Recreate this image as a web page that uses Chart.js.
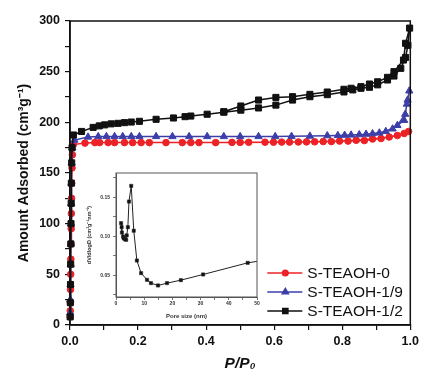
<!DOCTYPE html>
<html>
<head>
<meta charset="utf-8">
<script src="https://cdn.jsdelivr.net/npm/chart.js@4.4.1/dist/chart.umd.min.js"></script>
<style>
  html, body { margin: 0; padding: 0; background: #fff; }
  #wrap { position: relative; width: 423px; height: 374px; overflow: hidden; }
  #main { position: absolute; left: 0; top: 0; }
  #inset { position: absolute; left: 82px; top: 166px; pointer-events: none; }
</style>
</head>
<body>
<div id="wrap">
  <canvas id="main" width="423" height="374"></canvas>
  <canvas id="inset" width="182" height="156"></canvas>
</div>
<script>
// ---- data ----
const seriesNames = ["S-TEAOH-0", "S-TEAOH-1/9", "S-TEAOH-1/2"];

// S-TEAOH-0 : adsorption then desorption
const redP = [0.0005,0.0008,0.001,0.0015,0.002,0.0025,0.003,0.0035,0.004,0.0045,0.005,0.006,0.007,0.0097,
  0.044,0.087,0.131,0.184,0.233,0.282,0.330,0.379,0.428,0.476,0.525,0.573,0.622,0.671,0.719,0.768,0.817,0.865,0.914,0.962,0.995,
  0.982,0.938,0.889,0.841,0.792,0.744,0.695,0.645,0.598,0.500,0.355,0.209,0.160,0.112,0.073];
const redV = [8,14,22,35,50,65,80,95,110,125,140,155,168,178,
  179.5,180,180,180,180,180,180,180,180,180.2,180.3,180.4,180.5,180.6,180.8,181,181.5,182,184,187,191,
  189,185.5,183.5,182.3,181.5,181,180.7,180.5,180.4,180.2,180,180,180,180,180];

// S-TEAOH-1/9
const blueP = [0.0005,0.001,0.0015,0.002,0.0025,0.003,0.0035,0.004,0.005,0.007,0.013,
  0.053,0.083,0.107,0.131,0.155,0.180,0.204,0.253,0.301,0.350,0.403,0.452,0.500,0.554,0.603,0.651,0.705,0.756,0.807,0.850,0.889,0.928,0.962,0.985,0.992,0.997,
  0.990,0.982,0.948,0.909,0.870,0.826,0.787];
const blueV = [12,25,40,60,80,100,120,140,160,175,182.5,
  185.5,186,186,186,186,186,186,186,186,186,186,186,186,186,186,186.2,186.4,186.8,187.3,187.8,188.8,191,197,208,222,231,
  218,202,193.5,189.5,188.3,187.5,187];

// S-TEAOH-1/2
const blackP = [0.0005,0.001,0.0015,0.002,0.0025,0.003,0.0035,0.004,0.005,0.006,0.010,
  0.034,0.068,0.086,0.102,0.121,0.141,0.160,0.180,0.204,0.253,0.304,0.338,0.355,0.403,0.452,0.502,0.554,0.605,0.654,0.705,0.756,0.805,0.831,0.855,0.880,0.904,0.933,0.952,0.972,0.986,0.993,0.998,
  0.986,0.980,0.952,0.933,0.904,0.880,0.855,0.826,0.805,0.756,0.705,0.654,0.605,0.554,0.502,0.452];
const blackV = [8,22,40,60,80,100,120,140,160,175,187.5,
  191,195,196.5,197.5,198.5,199,199.7,200.3,201,203,204.3,205.6,206.2,208,210,212,214.2,217,222,225.3,227.3,230,232,233.6,234.6,237,241.8,245.7,253.3,264,276,293,
  278,261.5,250,244.4,240,237.8,235.2,233.6,232.6,229.9,227.6,225.3,224.6,222,216.1,210.5];

// inset: pore size distribution
const poreSize = [1.8,2.0,2.1,2.5,2.7,3.1,3.6,3.8,4.2,4.6,5.4,6.3,7.4,8.9,11.0,12.4,14.9,18.1,23.0,30.9,46.7,55];
const dvdlogd  = [0.1167,0.1115,0.1047,0.0996,0.0974,0.0962,0.0953,0.101,0.1115,0.1444,0.1645,0.107,0.0688,0.0526,0.044,0.0398,0.0368,0.0398,0.0436,0.0509,0.0658,0.0705];

// tick values / labels
const xTicks = [0,0.1,0.2,0.3,0.4,0.5,0.6,0.7,0.8,0.9,1.0];
const xTickLabels = ["0.0","","0.2","","0.4","","0.6","","0.8","","1.0"];
const yTicks = [0,25,50,75,100,125,150,175,200,225,250,275,300];
const yTickLabels = ["0","","50","","100","","150","","200","","250","","300"];
const insetXTicks = [0,5,10,15,20,25,30,35,40,45,50];
const insetXLabels = ["0","","10","","20","","30","","40","","50"];
const insetYTicks = [0.025,0.05,0.075,0.10,0.125,0.15,0.175];
const insetYLabels = ["","0.05","","0.10","","0.15",""];

const FONT = "'Liberation Sans', Arial, sans-serif";
const colors = ["#ec2227", "#3d3fa8", "#111111"];
const styles = ["circle", "triangle", "rect"];
const radii = [3.3, 4.2, 4.3];

const toXY = (px, vy) => px.map((p, i) => ({ x: p, y: vy[i] }));

// frame around plot
const framePlugin = {
  id: "frame",
  afterDatasetsDraw(chart, args, opts) {
    const { ctx, chartArea: a } = chart;
    ctx.save();
    ctx.strokeStyle = opts.color || "#111";
    ctx.lineWidth = opts.width || 1.5;
    ctx.strokeRect(a.left, a.top, a.right - a.left, a.bottom - a.top);
    ctx.restore();
  }
};

// legend drawn inside the plot, lower right
const legendPlugin = {
  id: "innerLegend",
  afterDraw(chart) {
    const { ctx, chartArea: a } = chart;
    ctx.save();
    chart.data.datasets.forEach((ds, i) => {
      const y = a.bottom - 52 + i * 19;
      const x0 = a.right - 143;
      ctx.strokeStyle = ds.borderColor;
      ctx.lineWidth = 1.5;
      ctx.beginPath();
      ctx.moveTo(x0, y);
      ctx.lineTo(x0 + 35, y);
      ctx.stroke();
      ctx.fillStyle = ds.borderColor;
      Chart.helpers.drawPoint(ctx, { pointStyle: ds.pointStyle, radius: ds.pointRadius * 0.85, rotation: 0, borderWidth: 1 }, x0 + 18, y);
      ctx.fillStyle = "#111";
      ctx.font = "15.5px " + FONT;
      ctx.textBaseline = "middle";
      ctx.textAlign = "left";
      ctx.fillText(ds.label, x0 + 40, y + 1);
    });
    ctx.restore();
  }
};

const mainSets = [[redP, redV], [blueP, blueV], [blackP, blackV]].map((s, i) => ({
  label: seriesNames[i],
  data: toXY(s[0], s[1]),
  showLine: true,
  borderColor: colors[i],
  backgroundColor: colors[i],
  borderWidth: 1.5,
  pointStyle: styles[i],
  pointRadius: radii[i],
  pointBorderWidth: 1,
  pointBackgroundColor: colors[i],
  pointBorderColor: colors[i],
  clip: false,
  order: 2 - i
}));

new Chart(document.getElementById("main"), {
  type: "scatter",
  data: { datasets: mainSets },
  options: {
    responsive: false,
    animation: false,
    layout: { padding: { left: 0, top: 21, right: 9, bottom: 0 } },
    plugins: { legend: { display: false }, tooltip: { enabled: false }, frame: { width: 1.5 } },
    scales: {
      x: {
        type: "linear", min: 0, max: 1,
        afterBuildTicks: s => { s.ticks = xTicks.map(v => ({ value: v })); },
        afterFit: s => { s.height = 49; },
        ticks: { callback: (v, i) => xTickLabels[i], autoSkip: false, maxRotation: 0, padding: 4, color: "#111",
                 font: { family: FONT, size: 12.5, weight: "bold" } },
        grid: { drawOnChartArea: false, tickLength: 5, color: "#111", lineWidth: 1.2 },
        border: { color: "#111", width: 1.5 },
        title: { display: true, text: "P/P\u2080", color: "#111", padding: { top: 0, bottom: 1 },
                 font: { family: FONT, size: 15.5, weight: "bold", style: "italic" } }
      },
      y: {
        type: "linear", min: 0, max: 300,
        afterBuildTicks: s => { s.ticks = yTicks.map(v => ({ value: v })); },
        afterFit: s => { s.width = 70; },
        ticks: { callback: (v, i) => yTickLabels[i], autoSkip: false, padding: 5, color: "#111",
                 font: { family: FONT, size: 12.5, weight: "bold" } },
        grid: { drawOnChartArea: false, tickLength: 5, color: "#111", lineWidth: 1.2 },
        border: { color: "#111", width: 1.5 },
        title: { display: true, text: "Amount Adsorbed (cm\u00B3g\u207B\u00B9)", color: "#111", padding: { top: 16, bottom: 0 },
                 font: { family: FONT, size: 14, weight: "bold" } }
      }
    }
  },
  plugins: [framePlugin, legendPlugin]
});

// inset chart
new Chart(document.getElementById("inset"), {
  type: "scatter",
  data: { datasets: [{
    data: toXY(poreSize, dvdlogd),
    showLine: true,
    borderColor: "#222",
    backgroundColor: "#111",
    borderWidth: 1,
    pointStyle: "rect",
    pointRadius: poreSize.map(p => p > 50 ? 0 : 2.3),
    pointBorderWidth: 0.5
  }] },
  options: {
    responsive: false,
    animation: false,
    layout: { padding: { left: 0, top: 7, right: 7, bottom: 0 } },
    plugins: { legend: { display: false }, tooltip: { enabled: false }, frame: { width: 1, color: "#555" } },
    scales: {
      x: {
        type: "linear", min: 0, max: 50,
        afterBuildTicks: s => { s.ticks = insetXTicks.map(v => ({ value: v })); },
        afterFit: s => { s.height = 25; },
        ticks: { callback: (v, i) => insetXLabels[i], autoSkip: false, maxRotation: 0, padding: 1, color: "#333",
                 font: { family: FONT, size: 5, weight: "bold" } },
        grid: { drawOnChartArea: false, tickLength: 3, color: "#555", lineWidth: 0.8 },
        border: { color: "#555", width: 1 },
        title: { display: true, text: "Pore size (nm)", color: "#333", padding: { top: 0, bottom: 2 },
                 font: { family: FONT, size: 6, weight: "bold" } }
      },
      y: {
        type: "linear", min: 0.022, max: 0.181,
        afterBuildTicks: s => { s.ticks = insetYTicks.map(v => ({ value: v })); },
        afterFit: s => { s.width = 34; },
        ticks: { callback: (v, i) => insetYLabels[i], autoSkip: false, padding: 3, color: "#333",
                 font: { family: FONT, size: 5, weight: "bold" } },
        grid: { drawOnChartArea: false, tickLength: 3, color: "#555", lineWidth: 0.8 },
        border: { color: "#555", width: 1 },
        title: { display: true, text: "dV/dlogD (cm\u00B3g\u207B\u00B9nm\u207B\u00B9)", color: "#333", padding: { top: 4, bottom: 0 },
                 font: { family: FONT, size: 5.5, weight: "bold" } }
      }
    }
  },
  plugins: [framePlugin]
});
</script>
</body>
</html>
